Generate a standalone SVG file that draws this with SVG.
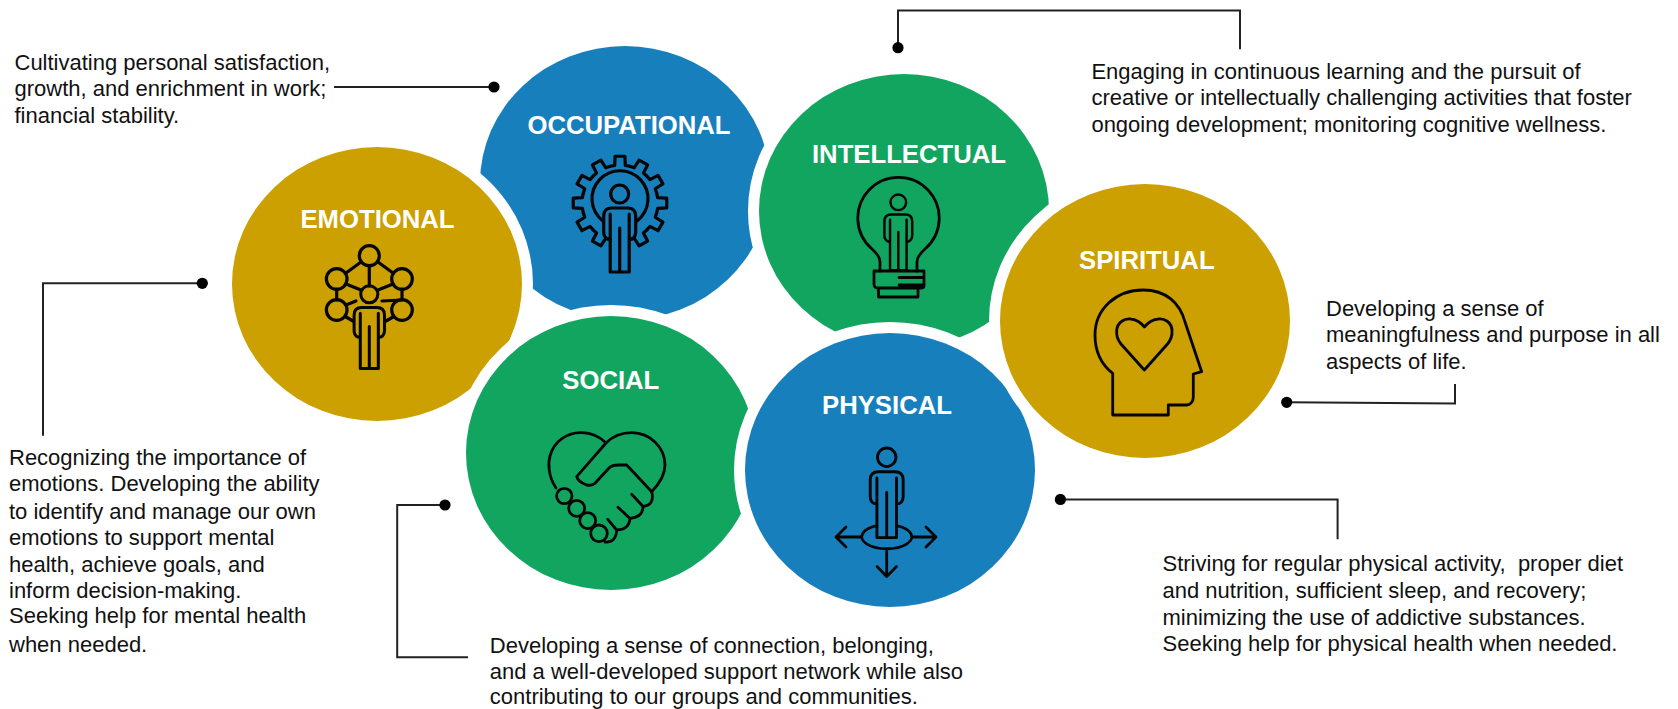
<svg xmlns="http://www.w3.org/2000/svg" width="1678" height="709" viewBox="0 0 1678 709">
<style>
.bg{fill:#fff}
.blob{stroke:#fff;stroke-width:22;paint-order:stroke}
.blue{fill:#187fbd}.green{fill:#12a560}.gold{fill:#cba000}
.label{font-family:"Liberation Sans",Arial,sans-serif;font-weight:700;font-size:25.7px;fill:#fff;text-anchor:middle}
.desc{font-family:"Liberation Sans",Arial,sans-serif;font-size:22px;fill:#111}
.ic{fill:none;stroke:#050505;stroke-width:2.8;stroke-linejoin:round;stroke-linecap:round}
.ic *{vector-effect:non-scaling-stroke}
.thick{stroke-width:3.2}
.conn{fill:none;stroke:#222;stroke-width:2;marker-end:url(#dot)}
</style>
<defs>
<marker id="dot" markerUnits="userSpaceOnUse" markerWidth="12" markerHeight="12" refX="6" refY="6" orient="auto"><circle cx="6" cy="6" r="5.6" fill="#000"/></marker>
<g id="person"><circle cx="0" cy="0" r="9"/><path d="M-9.5,45H-12Q-16,43 -16,38V22Q-16,14 -8,14H8Q16,14 16,22V38Q16,43 12,45H9.5V78H-9.5V20M9.5,20V45M0,34V78"/></g>
<path id="tooth" d="M-9.84,-36.7L-5.29,-37.63L-4.91,-46.74H4.91L5.29,-37.63L9.84,-36.7"/>
</defs>
<rect class="bg" width="1678" height="709"/>

<g id="occupational">
<ellipse class="blob blue" cx="625" cy="183" rx="145" ry="137"/>
<text class="label" x="629" y="133.5">OCCUPATIONAL</text>
<g class="ic thick">
<g transform="translate(620,203)">
<use href="#tooth"/><use href="#tooth" transform="rotate(30)"/><use href="#tooth" transform="rotate(60)"/><use href="#tooth" transform="rotate(90)"/><use href="#tooth" transform="rotate(120)"/><use href="#tooth" transform="rotate(150)"/><use href="#tooth" transform="rotate(210)"/><use href="#tooth" transform="rotate(240)"/><use href="#tooth" transform="rotate(270)"/><use href="#tooth" transform="rotate(300)"/><use href="#tooth" transform="rotate(330)"/>
</g>
<path d="M603,221A28,28 0 1 1 637,221"/>
<use href="#person" transform="translate(619.7,194)"/>
</g>
<text class="desc"><tspan x="14.5" y="70.3">Cultivating personal satisfaction,</tspan><tspan x="14.5" y="96">growth, and enrichment in work;</tspan><tspan x="14.5" y="123.3">financial stability.</tspan></text>
</g>

<g id="emotional">
<ellipse class="blob gold" cx="377" cy="284" rx="145" ry="137"/>
<text class="label" x="377.5" y="228.2">EMOTIONAL</text>
<g class="ic thick">
<circle cx="369.3" cy="255.7" r="10"/><circle cx="336.7" cy="279" r="10.3"/><circle cx="402" cy="279" r="10.3"/><circle cx="336.7" cy="310" r="10.3"/><circle cx="402" cy="310" r="10.3"/>
<path d="M361,262L346,273M378,262L393,273M369.3,266V286M346,284L361,290M393,284L378,290M336.7,289V300M402,289V300M346,305L356,301M393,317L386,321M346,317L353,321M402,300L382,301"/>
<use href="#person" transform="translate(369.3,294.3) scale(.95)"/>
</g>
<text class="desc"><tspan x="9" y="465">Recognizing the importance of</tspan><tspan x="9" y="491.2">emotions. Developing the ability</tspan><tspan x="9" y="518.8">to identify and manage our own</tspan><tspan x="9" y="545">emotions to support mental</tspan><tspan x="9" y="572">health, achieve goals, and</tspan><tspan x="9" y="597.7">inform decision-making.</tspan><tspan x="9" y="623.3">Seeking help for mental health</tspan><tspan x="9" y="651.7">when needed.</tspan></text>
</g>

<g id="intellectual">
<ellipse class="blob green" cx="904" cy="211" rx="145" ry="137"/>
<text class="label" x="909" y="162.5">INTELLECTUAL</text>
<g class="ic">
<path d="M880,271V262Q880,256 872,249A40.7,40.7 0 1 1 925,249Q917,256 917,262V271"/>
<use href="#person" transform="translate(898.3,202.3) scale(.87)"/>
<path d="M874,271H924V286Q924,288 921,288H878Q874,288 874,284ZM878.5,288V297H918V288M899,277.5H923M899,285H922"/>
</g>
<text class="desc"><tspan x="1091.4" y="79.3">Engaging in continuous learning and the pursuit of</tspan><tspan x="1091.4" y="105">creative or intellectually challenging activities that foster</tspan><tspan x="1091.4" y="132">ongoing development; monitoring cognitive wellness.</tspan></text>
</g>

<g id="social">
<ellipse class="blob green" cx="611" cy="453" rx="145" ry="137"/>
<text class="label" x="610.8" y="389.2">SOCIAL</text>
<g class="ic">
<path d="M556,488C548,476 548,463 550,456C554,441 568,432 582,432.7C592,433 600,437 606,443L576.7,476.7Q578,482 586.7,485Q592,486 595,483.3L610,467Q613,465 618,465H626.7L651.7,491.7M606,443C613,436 622,432.7 632,432.7C650,433 665,447 665,465C665,476 659,484 651.7,491.7"/>
<path d="M651.7,491.7Q655,505 643,506.5L631.7,494.3M643,506.5Q643,517 630,518.5L618,507.3M630,518.5Q629,530 616.7,530L607.7,519.3M616.7,530Q616,543 605,542"/>
<circle cx="564.3" cy="496" r="7.7"/><circle cx="576.7" cy="508.3" r="8"/><circle cx="587.7" cy="520.7" r="8"/><circle cx="599" cy="533.3" r="8.3"/>
</g>
<text class="desc"><tspan x="489.8" y="652.7">Developing a sense of connection, belonging,</tspan><tspan x="489.8" y="678.5">and a well-developed support network while also</tspan><tspan x="489.8" y="703.5">contributing to our groups and communities.</tspan></text>
</g>

<g id="physical">
<ellipse class="blob blue" cx="890" cy="470" rx="145" ry="137"/>
<text class="label" x="887" y="414">PHYSICAL</text>
<g class="ic">
<use href="#person" transform="translate(886.7,457.3) scale(1.03)"/>
<path d="M877,525.7A25,12 0 1 0 896.5,525.7M861.7,537H836M846,527L836,537L846,547M911.7,537H936M926,527L936,537L926,547M886.7,549V576.5M877,566.5L886.7,576.5L896.5,566.5"/>
</g>
<text class="desc" xml:space="preserve"><tspan x="1162.5" y="571">Striving for regular physical activity,  proper diet</tspan><tspan x="1162.5" y="597.5">and nutrition, sufficient sleep, and recovery;</tspan><tspan x="1162.5" y="624.5">minimizing the use of addictive substances.</tspan><tspan x="1162.5" y="651">Seeking help for physical health when needed.</tspan></text>
</g>

<g id="spiritual">
<ellipse class="blob gold" cx="1145" cy="321" rx="145" ry="137"/>
<text class="label" x="1146.8" y="269">SPIRITUAL</text>
<g class="ic">
<path d="M1112.7,415V373.3C1102,365 1095,352 1095,335C1095,309 1116,290 1143.3,290C1166,290 1180,303 1185,322L1201.7,371.7L1193.3,374V397C1193.3,402 1190,405 1186.7,405H1168.3V415Z"/>
<path d="M1144.3,370L1121,344Q1116,338 1116.7,331C1117,322 1125,318 1131,319Q1139,320 1144.3,327Q1150,320 1158,319C1164,318 1172,322 1172,331Q1172.5,338 1167.5,344Z"/>
</g>
<text class="desc"><tspan x="1326" y="315.5">Developing a sense of</tspan><tspan x="1326" y="342.2">meaningfulness and purpose in all</tspan><tspan x="1326" y="369.3">aspects of life.</tspan></text>
</g>

<g id="connectors">
<path class="conn" d="M334,87H494"/>
<path class="conn" d="M1240,49.3V10.5H898V47.7"/>
<path class="conn" d="M43,435.7V283.3H202.3"/>
<path class="conn" d="M468,657.3H397.2V505H445"/>
<path class="conn" d="M1337.6,539.3V499.5H1060.4"/>
<path class="conn" d="M1455,384V403.5L1286.7,402.3"/>
</g>
</svg>
